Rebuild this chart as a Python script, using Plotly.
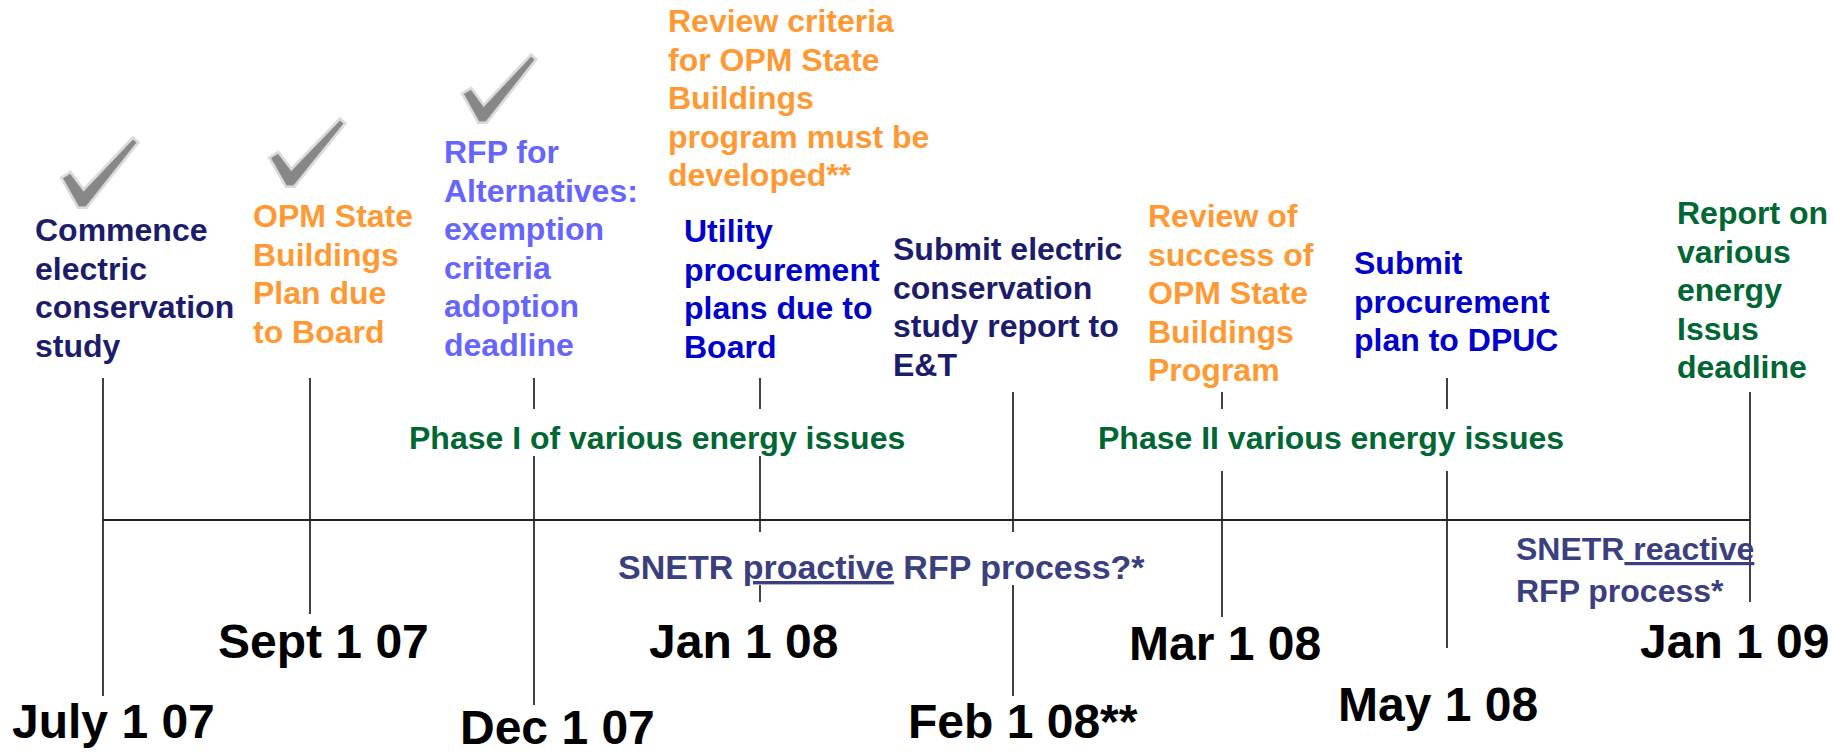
import plotly.graph_objects as go

# ---------------- data ----------------
date_labels = ["July 1 07", "Sept 1 07", "Dec 1 07", "Jan 1 08",
               "Feb 1 08**", "Mar 1 08", "May 1 08", "Jan 1 09"]

event_texts = [
    ["Commence", "electric", "conservation", "study"],
    ["OPM State", "Buildings", "Plan due", "to Board"],
    ["RFP for", "Alternatives:", "exemption", "criteria", "adoption", "deadline"],
    ["Review criteria", "for OPM State", "Buildings", "program must be", "developed**"],
    ["Utility", "procurement", "plans due to", "Board"],
    ["Submit electric", "conservation", "study report to", "E&T"],
    ["Review of", "success of", "OPM State", "Buildings", "Program"],
    ["Submit", "procurement", "plan to DPUC"],
    ["Report on", "various", "energy", "Issus", "deadline"],
]
event_done = [True, True, True, False, False, False, False, False, False]

phase_labels = ["Phase I of various energy issues", "Phase II various energy issues"]
rfp_labels = ["SNETR <u>proactive</u> RFP process?*", "SNETR<u> reactive</u><br>RFP process*"]

# ---------------- layout / styling ----------------
W, H = 1833, 755
FONT = "Liberation Sans, Arial, Helvetica, sans-serif"
NAVY = "#1c1c6a"
ORANGE = "#ff9933"
LILAC = "#6666ff"
BLUE = "#0000cc"
GREEN = "#006633"
SLATE = "#3b3f7d"

event_colors = [NAVY, ORANGE, LILAC, ORANGE, BLUE, NAVY, ORANGE, BLUE, GREEN]
event_left = [33, 251, 442, 666, 682, 891, 1146, 1352, 1675]
event_top = [230, 216, 152, 21, 231, 249, 216, 263, 213]
LINE_STEP = 38.6
# check mark boxes (x0, y0, x1, y1)
check_boxes = [(62, 140, 136, 206), (270, 121, 343, 185), (463, 57, 534, 121)]
check_shape = [(0.02, 0.58), (0.11, 0.52), (0.29, 0.79), (0.96, 0.00),
               (1.00, 0.04), (0.32, 1.00), (0.23, 1.00)]

date_x = [103, 310, 534, 760, 1013, 1222, 1447, 1750]
date_label_pos = [(113, 721), (323, 641), (557, 727), (743, 641),
                  (1023, 721), (1225, 643), (1438, 704), (1734, 641)]
date_segments = [
    [(378, 696)],
    [(378, 614)],
    [(378, 409), (456, 705)],
    [(378, 409), (456, 532), (585, 602)],
    [(392, 532), (585, 696)],
    [(392, 409), (471, 617)],
    [(378, 409), (471, 648)],
    [(392, 602)],
]
axis_y = 520
phase_pos = [(657, 438), (1331, 438)]

fig = go.Figure()

# vertical event lines
vx, vy = [], []
for x, segs in zip(date_x, date_segments):
    for y0, y1 in segs:
        vx += [x, x, None]
        vy += [y0, y1, None]
fig.add_trace(go.Scatter(x=vx, y=vy, mode="lines",
                         line=dict(color="#111111", width=1.6),
                         hoverinfo="skip", showlegend=False))
# main horizontal timeline
fig.add_trace(go.Scatter(x=[date_x[0], date_x[-1]], y=[axis_y, axis_y], mode="lines",
                         line=dict(color="#222222", width=2.2),
                         hoverinfo="skip", showlegend=False))

ann = []
shapes = []
# date labels
for lab, (x, y) in zip(date_labels, date_label_pos):
    ann.append(dict(x=x, y=y, text=lab, showarrow=False, xanchor="center", yanchor="middle",
                    font=dict(family=FONT, size=48, color="black", weight="bold")))

# event texts (one line per annotation for tight line spacing)
for lines, col, lx, ty in zip(event_texts, event_colors, event_left, event_top):
    for i, t in enumerate(lines):
        ann.append(dict(x=lx, y=ty + i * LINE_STEP, text=t, showarrow=False,
                        xanchor="left", yanchor="middle",
                        font=dict(family=FONT, size=32, color=col, weight="bold")))

# check marks for completed items (soft gray brush-like ticks)
ci = 0
for done in event_done:
    if done:
        x0, y0, x1, y1 = check_boxes[ci]
        ci += 1
        pts = [(x0 + u * (x1 - x0), y0 + v * (y1 - y0)) for u, v in check_shape]
        path = "M " + " L ".join(f"{px:.1f},{py:.1f}" for px, py in pts) + " Z"
        shapes.append(dict(type="path", path=path, xref="x", yref="y",
                           fillcolor="#9a9a9a", opacity=0.35,
                           line=dict(color="#9a9a9a", width=6), layer="above"))
        shapes.append(dict(type="path", path=path, xref="x", yref="y",
                           fillcolor="#6c6c6c", opacity=0.75,
                           line=dict(color="#7a7a7a", width=1), layer="above"))

# phase labels
for lab, (x, y) in zip(phase_labels, phase_pos):
    ann.append(dict(x=x, y=y, text=lab, showarrow=False, xanchor="center", yanchor="middle",
                    font=dict(family=FONT, size=32, color=GREEN, weight="bold")))

# RFP process labels
ann.append(dict(x=881, y=567, text=rfp_labels[0], showarrow=False,
                xanchor="center", yanchor="middle",
                font=dict(family=FONT, size=34, color=SLATE, weight="bold")))
ann.append(dict(x=1514, y=570, text=rfp_labels[1], showarrow=False,
                xanchor="left", yanchor="middle", align="left",
                font=dict(family=FONT, size=32, color=SLATE, weight="bold")))

fig.update_layout(
    width=W, height=H,
    margin=dict(l=0, r=0, t=0, b=0),
    paper_bgcolor="white", plot_bgcolor="white",
    xaxis=dict(range=[0, W], visible=False, fixedrange=True),
    yaxis=dict(range=[H, 0], visible=False, fixedrange=True),
    annotations=ann,
    shapes=shapes,
    showlegend=False,
)

fig.write_html("out.html", include_plotlyjs=True,
               config={"displayModeBar": False},
               post_script="document.body.style.margin='0';document.body.style.overflow='hidden';")
